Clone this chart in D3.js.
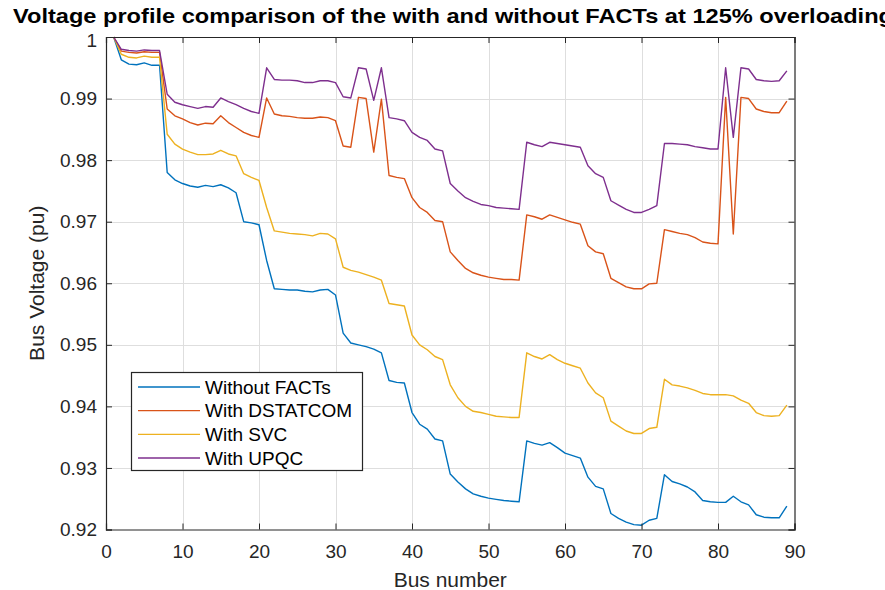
<!DOCTYPE html>
<html>
<head>
<meta charset="utf-8">
<script src="https://cdn.jsdelivr.net/npm/d3@7"></script>
<style>
  html, body { margin: 0; padding: 0; background: #fff; overflow: hidden; }
  svg { display: block; }
  text { font-family: "Liberation Sans", Arial, Helvetica, sans-serif; }
</style>
</head>
<body>
<svg id="chart" width="885" height="590"></svg>
<script>
// ---------------- data ----------------
const titleText = "Voltage profile comparison of the with and without FACTs at 125% overloading";
const xLabel = "Bus number";
const yLabel = "Bus Voltage (pu)";
const xTicks = [0, 10, 20, 30, 40, 50, 60, 70, 80, 90];
const yTicks = [0.92, 0.93, 0.94, 0.95, 0.96, 0.97, 0.98, 0.99, 1];
const yTickLabels = ["0.92", "0.93", "0.94", "0.95", "0.96", "0.97", "0.98", "0.99", "1"];
const seriesNames = ["Without FACTs", "With DSTATCOM", "With SVC", "With UPQC"];
const seriesColors = ["#0072BD", "#D95319", "#EDB120", "#7E2F8E"];

const withoutFACTs = [
  1.0, 0.9963, 0.9956, 0.9955, 0.9958, 0.9954, 0.9954, 0.978, 0.9768, 0.9762,
  0.9758, 0.9756, 0.9759, 0.9757, 0.976, 0.9755, 0.9747, 0.970, 0.9698, 0.9695,
  0.9637, 0.9591, 0.959, 0.9589, 0.9589, 0.9587, 0.9586, 0.9589, 0.959, 0.9581,
  0.9519, 0.9503, 0.950, 0.9497, 0.9493, 0.9487, 0.9442, 0.9439, 0.9438, 0.939,
  0.9371, 0.9363, 0.9347, 0.9344, 0.929, 0.9277, 0.9266, 0.9258, 0.9254, 0.9251,
  0.9249, 0.9247, 0.9246, 0.9245, 0.9344, 0.934, 0.9337, 0.9341, 0.9333, 0.9324,
  0.932, 0.9316, 0.9285, 0.927, 0.9266, 0.9226, 0.9218, 0.9212, 0.9208, 0.9207,
  0.9215, 0.9218, 0.9289, 0.9278, 0.9274, 0.9269, 0.9261, 0.9247, 0.9245, 0.9244,
  0.9244, 0.9254, 0.9245, 0.924, 0.9224, 0.922, 0.9219, 0.9219, 0.9238
];
const withDSTATCOM = [
  1.0, 0.9977, 0.9975, 0.9974, 0.9976, 0.9975, 0.9975, 0.9883, 0.9872, 0.9867,
  0.9861, 0.9857, 0.986, 0.9859, 0.9872, 0.9861, 0.9853, 0.9845, 0.984, 0.9837,
  0.9901, 0.9875, 0.9872, 0.9871, 0.9869, 0.9868, 0.9868, 0.987, 0.9869, 0.9864,
  0.9823, 0.9821, 0.9902, 0.990, 0.9813, 0.9899, 0.9775, 0.9772, 0.977, 0.9739,
  0.9723, 0.9715, 0.9702, 0.970, 0.9651, 0.9637, 0.9624, 0.9617, 0.9613, 0.961,
  0.9608, 0.9606, 0.9606, 0.9605, 0.9711, 0.9708, 0.9704, 0.9711, 0.9707, 0.9703,
  0.9699, 0.9696, 0.9661, 0.9651, 0.9648, 0.9608, 0.9601, 0.9594, 0.9591, 0.9591,
  0.9599, 0.960, 0.9687, 0.9684, 0.9681, 0.9679, 0.9674, 0.9667, 0.9665, 0.9664,
  0.9902, 0.968, 0.9902, 0.990, 0.9883, 0.9879, 0.9877, 0.9877, 0.9896
];
const withSVC = [
  1.0, 0.9972, 0.9967, 0.9966, 0.9969, 0.9967, 0.9967, 0.9842, 0.9826, 0.9818,
  0.9813, 0.9809, 0.9809, 0.981, 0.9816, 0.981, 0.9807, 0.9778, 0.9772, 0.9767,
  0.9723, 0.9685, 0.9683, 0.9681, 0.968, 0.9679, 0.9677, 0.9681, 0.968, 0.9672,
  0.9626, 0.9621, 0.9618, 0.9614, 0.961, 0.9605, 0.9567, 0.9565, 0.9563, 0.9516,
  0.950, 0.9492, 0.9481, 0.9476, 0.9435, 0.9414, 0.940, 0.9392, 0.939, 0.9387,
  0.9384, 0.9383, 0.9382, 0.9382, 0.9487, 0.9481, 0.9477, 0.9484, 0.9476, 0.947,
  0.9466, 0.9462, 0.9438, 0.9422, 0.9414, 0.9376, 0.9368, 0.936, 0.9356, 0.9356,
  0.9364, 0.9366, 0.9444, 0.9435, 0.9433, 0.943, 0.9426, 0.9421, 0.9419, 0.9419,
  0.9419, 0.9417, 0.941, 0.9405, 0.939, 0.9385, 0.9384, 0.9385, 0.9402
];
const withUPQC = [
  1.0, 0.998, 0.9978, 0.9977, 0.9979, 0.9978, 0.9978, 0.9907, 0.9894, 0.989,
  0.9887, 0.9884, 0.9887, 0.9886, 0.9901, 0.9895, 0.989, 0.9884, 0.9879, 0.9876,
  0.995, 0.9931, 0.993, 0.993, 0.9929, 0.9926, 0.9926, 0.9929, 0.9929, 0.9926,
  0.9903, 0.9901, 0.995, 0.9948, 0.9897, 0.995, 0.9869, 0.9867, 0.9864, 0.9845,
  0.9837, 0.9832, 0.9818, 0.9815, 0.9762, 0.975, 0.9739, 0.9733, 0.9728, 0.9726,
  0.9723, 0.9722, 0.9721, 0.972, 0.9829, 0.9825, 0.9822, 0.9829, 0.9827, 0.9825,
  0.9823, 0.9821, 0.9791, 0.9778, 0.9772, 0.9734, 0.9727, 0.972, 0.9715, 0.9715,
  0.972, 0.9726, 0.9827, 0.9827, 0.9826, 0.9825, 0.9822, 0.982, 0.9818, 0.9818,
  0.995, 0.9837, 0.995, 0.9948, 0.9931, 0.9929, 0.9928, 0.9929, 0.9945
];
const allSeries = [withoutFACTs, withDSTATCOM, withSVC, withUPQC];

// ---------------- layout ----------------
const svg = d3.select("#chart");
const L = 106, R = 794.5, T = 37, B = 529.5;
const x = d3.scaleLinear().domain([0, 90]).range([L, R]);
const y = d3.scaleLinear().domain([0.92, 1]).range([B, T]);
const axisColor = "#262626";
const tickLen = 6;

svg.append("rect").attr("x", 0).attr("y", 0).attr("width", 885).attr("height", 590).attr("fill", "#fff");

// grid
const grid = svg.append("g").attr("stroke", "#dedede").attr("stroke-width", 1);
grid.selectAll("line.gx").data(xTicks.slice(1, -1)).join("line")
  .attr("x1", d => Math.round(x(d)) + 0.5).attr("x2", d => Math.round(x(d)) + 0.5)
  .attr("y1", T).attr("y2", B);
grid.selectAll("line.gy").data(yTicks.slice(1, -1)).join("line")
  .attr("y1", d => Math.round(y(d)) + 0.5).attr("y2", d => Math.round(y(d)) + 0.5)
  .attr("x1", L).attr("x2", R);

// series
const line = d3.line().x((d, i) => x(i + 1)).y(d => y(d));
svg.append("g").selectAll("path").data(allSeries).join("path")
  .attr("d", d => line(d))
  .attr("fill", "none")
  .attr("stroke", (d, i) => seriesColors[i])
  .attr("stroke-width", 1.4)
  .attr("stroke-linejoin", "round");

// axes (MATLAB-style box with inward ticks)
const xAxisB = d3.axisBottom(x).tickValues(xTicks).tickSize(-tickLen).tickPadding(15).tickFormat(d3.format("d"));
const xAxisT = d3.axisTop(x).tickValues(xTicks).tickSize(-tickLen).tickFormat("");
const yAxisL = d3.axisLeft(y).tickValues(yTicks).tickSize(-tickLen).tickPadding(9)
  .tickFormat((d, i) => yTickLabels[i]);
const yAxisR = d3.axisRight(y).tickValues(yTicks).tickSize(-tickLen).tickFormat("");

function styleAxis(g) {
  g.selectAll("path.domain").attr("stroke", axisColor).attr("stroke-width", 1.2);
  g.selectAll(".tick line").attr("stroke", axisColor).attr("stroke-width", 1);
  g.selectAll(".tick text").attr("fill", axisColor).style("font-size", "19px")
    .style("font-family", '"Liberation Sans", Arial, sans-serif');
}
svg.append("g").attr("transform", `translate(0,${B})`).call(xAxisB).call(styleAxis);
svg.append("g").attr("transform", `translate(0,${T})`).call(xAxisT).call(styleAxis);
const yg = svg.append("g").attr("transform", `translate(${L},0)`).call(yAxisL).call(styleAxis);
// nudge the top label ("1") slightly down so it clears the title
yg.selectAll(".tick text").filter(d => d === 1).attr("dy", "0.5em");
svg.append("g").attr("transform", `translate(${R},0)`).call(yAxisR).call(styleAxis);

// axis labels
svg.append("text").attr("x", (L + R) / 2).attr("y", 587).attr("text-anchor", "middle")
  .attr("fill", axisColor).style("font-size", "21px").text(xLabel);
svg.append("text").attr("transform", `translate(44,${(T + B) / 2}) rotate(-90)`)
  .attr("text-anchor", "middle").attr("fill", axisColor).style("font-size", "21px").text(yLabel);

// title (runs past the right edge, as in the original)
svg.append("text").attr("x", 13).attr("y", 23).attr("fill", "#000")
  .attr("textLength", 880).attr("lengthAdjust", "spacingAndGlyphs")
  .style("font-size", "21px").style("font-weight", "bold").text(titleText);

// legend
const lg = svg.append("g");
lg.append("rect").attr("x", 131.5).attr("y", 372.5).attr("width", 231).attr("height", 98)
  .attr("fill", "#fff").attr("stroke", axisColor).attr("stroke-width", 1.2);
const rowY = d3.scaleLinear().domain([0, 3]).range([387, 458]);
seriesNames.forEach((name, i) => {
  lg.append("line").attr("x1", 138).attr("x2", 200).attr("y1", rowY(i)).attr("y2", rowY(i))
    .attr("stroke", seriesColors[i]).attr("stroke-width", 1.4);
  lg.append("text").attr("x", 205).attr("y", rowY(i)).attr("dy", "0.35em")
    .attr("fill", "#000").style("font-size", "19px").text(name);
});
</script>
</body>
</html>
